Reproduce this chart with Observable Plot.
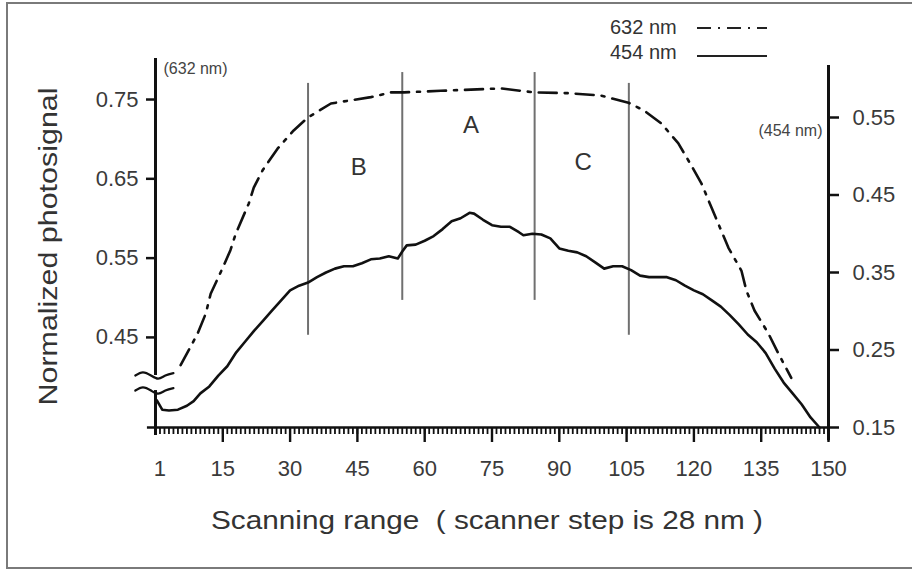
<!DOCTYPE html>
<html><head><meta charset="utf-8">
<script src="https://cdn.jsdelivr.net/npm/d3@7"></script>
<script src="https://cdn.jsdelivr.net/npm/@observablehq/plot@0.6"></script>
<style>
body{margin:0;background:#fff;font-family:"Liberation Sans",Arial,sans-serif}
#wrap{position:relative;width:912px;height:570px;overflow:hidden;background:#fff}
#wrap > svg{position:absolute;left:0;top:0}
#frame{position:absolute;left:6px;top:2px;width:940px;height:567px;border:2px solid #7a7a7a;box-sizing:border-box;pointer-events:none}
#legend{position:absolute;left:610px;top:15px;font-size:20px;color:#333}
#legend .row{display:flex;align-items:center;height:25px}
#legend .lab{width:87px}
</style></head><body>
<div id="wrap"><div id="frame"></div></div>
<script>
// ---- data ----
// 454 nm photosignal (right axis)
const steps454 = [0.3,1.5,3,5,7,8.5,10,12,14,16,18,20,22,24,26,28,30,32,34,36,38,40,42,44,46,48,50,52,54,55,56,58,60,62,64,66,68,70,71,73,75,77,79,81,82,84,86,88,90,92,94,96,98,100,102,104,106,108,110,112,114,116,118,120,122,124,126,128,130,132,134,136,138,140,142,144,146,148];
const sig454 = [0.185,0.173,0.172,0.173,0.178,0.184,0.194,0.203,0.217,0.229,0.247,0.261,0.275,0.288,0.301,0.314,0.327,0.333,0.337,0.344,0.350,0.355,0.358,0.358,0.362,0.367,0.368,0.371,0.368,0.377,0.385,0.386,0.391,0.397,0.406,0.416,0.420,0.427,0.426,0.418,0.411,0.409,0.409,0.402,0.398,0.400,0.399,0.394,0.381,0.378,0.376,0.371,0.363,0.355,0.358,0.358,0.353,0.346,0.344,0.344,0.344,0.340,0.333,0.327,0.322,0.314,0.306,0.295,0.283,0.270,0.260,0.246,0.226,0.208,0.194,0.180,0.163,0.150];
// 632 nm photosignal (left axis)
const steps632 = [5.6,9.4,11.2,12.3,15,16.7,17.9,20.8,21.9,23.9,27.2,30.8,33.9,39.1,43.5,48,52.5,55.4,63.6,77,84.4,92,99.3,105.4,108.9,112.7,116.5,119.4,121.7,123.9,125.4,127.7,130.6,131.7,133.5,136.6,138.8,141.7];
const sig632 = [0.415,0.455,0.480,0.505,0.538,0.560,0.581,0.619,0.639,0.661,0.688,0.711,0.727,0.745,0.749,0.753,0.759,0.759,0.761,0.764,0.759,0.758,0.755,0.746,0.736,0.720,0.695,0.667,0.644,0.614,0.594,0.563,0.534,0.509,0.484,0.455,0.430,0.399];
// tick values / labels
const xLabelTicks = [1,15,30,45,60,75,90,105,120,135,150];
const xMajorTicks = [15,30,45,60,75,90,105,120,135,150];
const xMinorTicks = d3.range(1,150);
const leftTicks = [0.45,0.55,0.65,0.75];
const rightTicks = [0.15,0.25,0.35,0.45,0.55];
// region boundaries (scanner steps) and their extent (454 nm units)
const regionX = [34,55,84.5,105.5];
const regionTop = [0.594,0.608,0.608,0.594];
const regionBottom = [0.269,0.314,0.314,0.269];
const regionNames = ["B","A","C"];
const regionLabelX = [45.3,70.3,95.3];
const regionLabelY = [0.486,0.540,0.492];
// left-axis break (632 nm units)
const breakLevels = [0.402,0.383];
const waveDx = [-4.5,-2.8,-1,0.6,2.2,4];
const waveDy = [0,0.004,0,-0.004,0,0.003];
const xTitle = "Scanning range  ( scanner step is 28 nm )";
const yTitle = "Normalized photosignal";
const seriesNames = ["632 nm","454 nm"];

// ---- tables ----
const solid = steps454.map((s,i)=>({step:s, v:sig454[i]}));
const dashed = steps632.map((s,i)=>({step:s, v:sig632[i]}));
const regions = regionX.map((x,i)=>({x, top:regionTop[i], bottom:regionBottom[i]}));
const regionLabels = regionNames.map((n,i)=>({n, x:regionLabelX[i], y:regionLabelY[i]}));
const waves = [];
breakLevels.forEach((b,g)=>waveDx.forEach((dx,i)=>waves.push({g, x:dx, y:b+waveDy[i]})));

const W=912,H=570, common = {width:W,height:H,marginLeft:155,marginRight:84,marginTop:65,marginBottom:143};
const font = "Liberation Sans, Arial, sans-serif";
const fmt = d3.format(".2f");
const DASH = "18,8,3,8";

const plotR = Plot.plot({
  ...common,
  style:{fontFamily:font,fontSize:"22px",color:"#111",background:"transparent",overflow:"visible"},
  x:{domain:[0,150]},
  y:{domain:[0.15,0.6171]},
  marks:[
    Plot.axisX({ticks:xMinorTicks,tickSize:7,fill:"none",strokeWidth:1.8,label:null}),
    Plot.axisX({ticks:xMajorTicks,tickSize:15,fill:"none",strokeWidth:2.4,label:null}),
    Plot.axisX({ticks:xLabelTicks,tickSize:0,tickPadding:33,fill:"#3a3a3a",fontSize:22,tickFormat:d=>String(d),label:null}),
    Plot.axisY({anchor:"right",ticks:rightTicks,tickSize:10,tickPadding:14,strokeWidth:2.5,fill:"#3a3a3a",fontSize:22,tickFormat:fmt,label:null}),
    Plot.ruleX([150],{y1:0.133,y2:0.6171,strokeWidth:3,stroke:"#111"}),
    Plot.ruleY([0.15],{x1:-1.8,x2:150,strokeWidth:2.5,stroke:"#111"}),
    Plot.ruleX(regions,{x:"x",y1:"top",y2:"bottom",stroke:"#707070",strokeWidth:2}),
    Plot.text(regionLabels,{x:"x",y:"y",text:"n",fontSize:24,fill:"#333"}),
    Plot.line(solid,{x:"step",y:"v",stroke:"#111",strokeWidth:2.6}),
    Plot.text(["(454 nm)"],{frameAnchor:"top-right",dx:-6,dy:65,textAnchor:"end",lineAnchor:"middle",fontSize:16,fill:"#444"}),
    Plot.text([xTitle],{frameAnchor:"bottom",dy:93,dx:-5,textAnchor:"middle",lineAnchor:"middle",fontSize:25,fill:"#333"})
  ]
});

const plotL = Plot.plot({
  ...common,
  style:{fontFamily:font,fontSize:"22px",color:"#111",background:"transparent",overflow:"visible"},
  x:{domain:[0,150],axis:null},
  y:{domain:[0.3364,0.7929]},
  marks:[
    Plot.axisY({anchor:"left",ticks:leftTicks,tickSize:9,tickPadding:8,strokeWidth:2.5,fill:"#3a3a3a",fontSize:22,tickFormat:fmt,label:null}),
    Plot.ruleX([0],{y1:breakLevels[0],y2:0.8017,strokeWidth:3,stroke:"#111"}),
    Plot.ruleX([0],{y1:0.3263,y2:breakLevels[1],strokeWidth:3,stroke:"#111"}),
    Plot.line(waves,{x:"x",y:"y",z:"g",curve:"natural",stroke:"#111",strokeWidth:2.2}),
    Plot.line(dashed,{x:"step",y:"v",stroke:"#111",strokeWidth:2.6,strokeDasharray:DASH}),
    Plot.text(["(632 nm)"],{frameAnchor:"top-left",dx:8,dy:3,textAnchor:"start",lineAnchor:"middle",fontSize:16,fill:"#444"}),
    Plot.text([yTitle],{frameAnchor:"left",dx:-107,rotate:-90,textAnchor:"middle",lineAnchor:"middle",fontSize:25,fill:"#333"})
  ]
});

const wrap = document.getElementById("wrap");
wrap.insertBefore(plotR, wrap.firstChild);
wrap.insertBefore(plotL, plotR.nextSibling);
d3.select(plotR).selectAll("text").filter(function(){return this.textContent===xTitle;})
  .attr("textLength",552).attr("lengthAdjust","spacingAndGlyphs");
d3.select(plotL).selectAll("text").filter(function(){return this.textContent===yTitle;})
  .attr("textLength",318).attr("lengthAdjust","spacingAndGlyphs");

// legend
const lg = document.createElement("div");
lg.id = "legend";
lg.innerHTML = seriesNames.map((n,i)=>`<div class="row"><span class="lab">${n}</span><svg width="72" height="14"><line x1="0" x2="70" y1="${i?10:7}" y2="${i?10:7}" stroke="#222" stroke-width="2" ${i?"":'stroke-dasharray="14,7,2,7"'}/></svg></div>`).join("");
wrap.appendChild(lg);
</script></body></html>
